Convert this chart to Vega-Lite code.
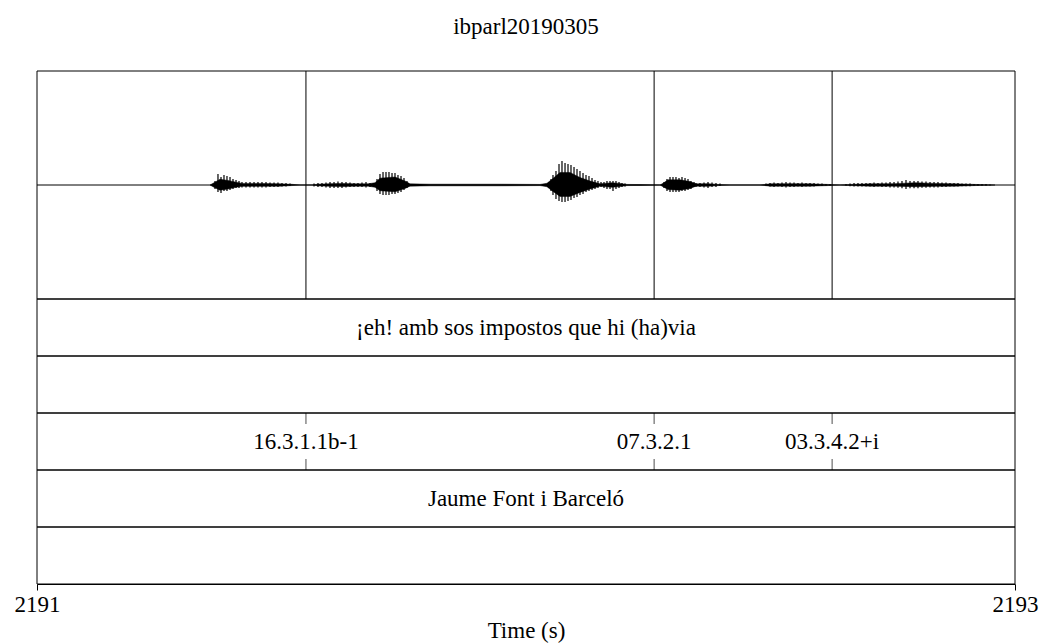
{
  "$schema": "https://vega.github.io/schema/vega-lite/v6.json",
  "width": 978,
  "height": 513,
  "autosize": {"type": "none"},
  "padding": {"left": 37, "top": 71, "right": 30, "bottom": 59},
  "background": "white",
  "title": {"text": "ibparl20190305", "font": "Liberation Serif", "fontSize": 23, "fontWeight": "normal", "color": "black", "anchor": "middle", "offset": 32},
  "config": {
    "view": {"stroke": null},
    "axisX": {"labelFont": "Liberation Serif", "labelFontSize": 23, "labelColor": "black", "titleFont": "Liberation Serif", "titleFontSize": 23, "titleFontWeight": "normal", "titleColor": "black", "tickColor": "black", "tickSize": 6, "domainColor": "black", "grid": false, "labelFlush": false, "labelOverlap": false, "labelPadding": 3, "titlePadding": 3}
  },
  "datasets": {
    "tiers": [
      {"tier": "1", "start": 2191, "end": 2193, "label": "¡eh! amb sos impostos que hi (ha)via"},
      {"tier": "2", "start": 2191, "end": 2193, "label": ""},
      {"tier": "3", "start": 2191, "end": 2193, "label": ""},
      {"tier": "4", "start": 2191, "end": 2193, "label": "Jaume Font i Barceló"},
      {"tier": "5", "start": 2191, "end": 2193, "label": ""}
    ],
    "points": [
      {"tier": "3", "time": 2191.550, "label": "16.3.1.1b-1"},
      {"tier": "3", "time": 2192.262, "label": "07.3.2.1"},
      {"tier": "3", "time": 2192.626, "label": "03.3.4.2+i"}
    ],
    "env": [
      {"t": 2191.3538, "lo": 0, "hi": 0},
      {"t": 2191.3620, "lo": -0.02, "hi": 0.02},
      {"t": 2191.3742, "lo": -0.045, "hi": 0.05},
      {"t": 2191.3906, "lo": -0.035, "hi": 0.04},
      {"t": 2191.4070, "lo": -0.02, "hi": 0.025},
      {"t": 2191.4192, "lo": -0.012, "hi": 0.014},
      {"t": 2191.4560, "lo": -0.012, "hi": 0.014},
      {"t": 2191.4969, "lo": -0.01, "hi": 0.01},
      {"t": 2191.5215, "lo": -0.005, "hi": 0.006},
      {"t": 2191.5378, "lo": 0, "hi": 0},
      {"t": 2191.5624, "lo": 0, "hi": 0},
      {"t": 2191.5746, "lo": -0.007, "hi": 0.007},
      {"t": 2191.5992, "lo": -0.012, "hi": 0.012},
      {"t": 2191.6237, "lo": -0.014, "hi": 0.014},
      {"t": 2191.6503, "lo": -0.01, "hi": 0.01},
      {"t": 2191.6769, "lo": -0.01, "hi": 0.01},
      {"t": 2191.6912, "lo": -0.02, "hi": 0.02},
      {"t": 2191.7014, "lo": -0.05, "hi": 0.06},
      {"t": 2191.7321, "lo": -0.06, "hi": 0.07},
      {"t": 2191.7526, "lo": -0.03, "hi": 0.035},
      {"t": 2191.7628, "lo": -0.01, "hi": 0.01},
      {"t": 2191.8037, "lo": -0.007, "hi": 0.007},
      {"t": 2191.8650, "lo": -0.007, "hi": 0.007},
      {"t": 2191.9468, "lo": -0.007, "hi": 0.007},
      {"t": 2192.0286, "lo": -0.005, "hi": 0.005},
      {"t": 2192.0429, "lo": -0.015, "hi": 0.015},
      {"t": 2192.0532, "lo": -0.05, "hi": 0.05},
      {"t": 2192.0695, "lo": -0.1, "hi": 0.11},
      {"t": 2192.0900, "lo": -0.1, "hi": 0.11},
      {"t": 2192.1104, "lo": -0.065, "hi": 0.065},
      {"t": 2192.1309, "lo": -0.035, "hi": 0.035},
      {"t": 2192.1513, "lo": -0.01, "hi": 0.01},
      {"t": 2192.1595, "lo": -0.014, "hi": 0.014},
      {"t": 2192.1759, "lo": -0.02, "hi": 0.02},
      {"t": 2192.1922, "lo": -0.014, "hi": 0.014},
      {"t": 2192.2065, "lo": -0.005, "hi": 0.005},
      {"t": 2192.2331, "lo": -0.004, "hi": 0.004},
      {"t": 2192.2740, "lo": 0, "hi": 0},
      {"t": 2192.2802, "lo": -0.015, "hi": 0.015},
      {"t": 2192.2904, "lo": -0.04, "hi": 0.045},
      {"t": 2192.3149, "lo": -0.045, "hi": 0.045},
      {"t": 2192.3354, "lo": -0.03, "hi": 0.03},
      {"t": 2192.3476, "lo": -0.01, "hi": 0.01},
      {"t": 2192.3722, "lo": -0.012, "hi": 0.012},
      {"t": 2192.3926, "lo": -0.005, "hi": 0.005},
      {"t": 2192.4172, "lo": 0, "hi": 0},
      {"t": 2192.4785, "lo": 0, "hi": 0},
      {"t": 2192.4990, "lo": -0.01, "hi": 0.01},
      {"t": 2192.5399, "lo": -0.01, "hi": 0.012},
      {"t": 2192.5808, "lo": -0.01, "hi": 0.01},
      {"t": 2192.6176, "lo": -0.005, "hi": 0.005},
      {"t": 2192.6421, "lo": 0, "hi": 0},
      {"t": 2192.6626, "lo": -0.005, "hi": 0.005},
      {"t": 2192.7035, "lo": -0.01, "hi": 0.01},
      {"t": 2192.7546, "lo": -0.01, "hi": 0.012},
      {"t": 2192.7955, "lo": -0.015, "hi": 0.02},
      {"t": 2192.8364, "lo": -0.012, "hi": 0.014},
      {"t": 2192.8773, "lo": -0.01, "hi": 0.01},
      {"t": 2192.9182, "lo": -0.005, "hi": 0.005},
      {"t": 2192.9591, "lo": 0, "hi": 0}
    ],
    "spikes": [
      {"t": 2191.3640, "lo": -0.035, "hi": 0.035},
      {"t": 2191.3701, "lo": -0.061, "hi": 0.096},
      {"t": 2191.3763, "lo": -0.07, "hi": 0.07},
      {"t": 2191.3824, "lo": -0.053, "hi": 0.088},
      {"t": 2191.3885, "lo": -0.053, "hi": 0.079},
      {"t": 2191.3947, "lo": -0.044, "hi": 0.07},
      {"t": 2191.4008, "lo": -0.035, "hi": 0.053},
      {"t": 2191.4070, "lo": -0.026, "hi": 0.044},
      {"t": 2191.4131, "lo": -0.026, "hi": 0.035},
      {"t": 2191.4192, "lo": -0.022, "hi": 0.026},
      {"t": 2191.4274, "lo": -0.022, "hi": 0.026},
      {"t": 2191.4356, "lo": -0.022, "hi": 0.026},
      {"t": 2191.4438, "lo": -0.022, "hi": 0.026},
      {"t": 2191.4519, "lo": -0.022, "hi": 0.026},
      {"t": 2191.4601, "lo": -0.022, "hi": 0.026},
      {"t": 2191.4683, "lo": -0.022, "hi": 0.026},
      {"t": 2191.4765, "lo": -0.018, "hi": 0.022},
      {"t": 2191.4847, "lo": -0.018, "hi": 0.022},
      {"t": 2191.4928, "lo": -0.018, "hi": 0.022},
      {"t": 2191.5010, "lo": -0.013, "hi": 0.018},
      {"t": 2191.5092, "lo": -0.013, "hi": 0.018},
      {"t": 2191.5174, "lo": -0.009, "hi": 0.013},
      {"t": 2191.5665, "lo": -0.013, "hi": 0.013},
      {"t": 2191.5746, "lo": -0.018, "hi": 0.018},
      {"t": 2191.5828, "lo": -0.018, "hi": 0.018},
      {"t": 2191.5910, "lo": -0.022, "hi": 0.022},
      {"t": 2191.5992, "lo": -0.026, "hi": 0.026},
      {"t": 2191.6074, "lo": -0.026, "hi": 0.026},
      {"t": 2191.6155, "lo": -0.026, "hi": 0.031},
      {"t": 2191.6237, "lo": -0.026, "hi": 0.026},
      {"t": 2191.6319, "lo": -0.022, "hi": 0.026},
      {"t": 2191.6401, "lo": -0.018, "hi": 0.022},
      {"t": 2191.6483, "lo": -0.018, "hi": 0.018},
      {"t": 2191.6564, "lo": -0.018, "hi": 0.018},
      {"t": 2191.6646, "lo": -0.018, "hi": 0.022},
      {"t": 2191.6728, "lo": -0.022, "hi": 0.026},
      {"t": 2191.6810, "lo": -0.018, "hi": 0.018},
      {"t": 2191.6953, "lo": -0.053, "hi": 0.053},
      {"t": 2191.7014, "lo": -0.079, "hi": 0.096},
      {"t": 2191.7076, "lo": -0.088, "hi": 0.114},
      {"t": 2191.7137, "lo": -0.088, "hi": 0.114},
      {"t": 2191.7198, "lo": -0.088, "hi": 0.114},
      {"t": 2191.7260, "lo": -0.079, "hi": 0.105},
      {"t": 2191.7321, "lo": -0.079, "hi": 0.105},
      {"t": 2191.7382, "lo": -0.07, "hi": 0.088},
      {"t": 2191.7444, "lo": -0.061, "hi": 0.079},
      {"t": 2191.7505, "lo": -0.044, "hi": 0.061},
      {"t": 2191.7566, "lo": -0.026, "hi": 0.035},
      {"t": 2192.0470, "lo": -0.026, "hi": 0.026},
      {"t": 2192.0511, "lo": -0.053, "hi": 0.053},
      {"t": 2192.0552, "lo": -0.088, "hi": 0.088},
      {"t": 2192.0613, "lo": -0.123, "hi": 0.123},
      {"t": 2192.0675, "lo": -0.14, "hi": 0.184},
      {"t": 2192.0736, "lo": -0.149, "hi": 0.211},
      {"t": 2192.0798, "lo": -0.149, "hi": 0.193},
      {"t": 2192.0859, "lo": -0.14, "hi": 0.184},
      {"t": 2192.0920, "lo": -0.132, "hi": 0.175},
      {"t": 2192.0982, "lo": -0.114, "hi": 0.158},
      {"t": 2192.1043, "lo": -0.105, "hi": 0.14},
      {"t": 2192.1104, "lo": -0.088, "hi": 0.123},
      {"t": 2192.1166, "lo": -0.079, "hi": 0.105},
      {"t": 2192.1227, "lo": -0.061, "hi": 0.088},
      {"t": 2192.1288, "lo": -0.053, "hi": 0.079},
      {"t": 2192.1350, "lo": -0.044, "hi": 0.061},
      {"t": 2192.1411, "lo": -0.035, "hi": 0.044},
      {"t": 2192.1472, "lo": -0.026, "hi": 0.035},
      {"t": 2192.1534, "lo": -0.018, "hi": 0.026},
      {"t": 2192.1595, "lo": -0.026, "hi": 0.026},
      {"t": 2192.1656, "lo": -0.035, "hi": 0.035},
      {"t": 2192.1718, "lo": -0.035, "hi": 0.035},
      {"t": 2192.1779, "lo": -0.053, "hi": 0.035},
      {"t": 2192.1840, "lo": -0.035, "hi": 0.035},
      {"t": 2192.1902, "lo": -0.026, "hi": 0.026},
      {"t": 2192.1963, "lo": -0.018, "hi": 0.018},
      {"t": 2192.2025, "lo": -0.013, "hi": 0.013},
      {"t": 2192.2822, "lo": -0.026, "hi": 0.026},
      {"t": 2192.2883, "lo": -0.053, "hi": 0.053},
      {"t": 2192.2945, "lo": -0.061, "hi": 0.07},
      {"t": 2192.3006, "lo": -0.061, "hi": 0.07},
      {"t": 2192.3067, "lo": -0.061, "hi": 0.07},
      {"t": 2192.3129, "lo": -0.061, "hi": 0.061},
      {"t": 2192.3190, "lo": -0.053, "hi": 0.07},
      {"t": 2192.3252, "lo": -0.053, "hi": 0.061},
      {"t": 2192.3313, "lo": -0.044, "hi": 0.053},
      {"t": 2192.3374, "lo": -0.035, "hi": 0.035},
      {"t": 2192.3436, "lo": -0.018, "hi": 0.026},
      {"t": 2192.3476, "lo": -0.018, "hi": 0.018},
      {"t": 2192.3558, "lo": -0.018, "hi": 0.018},
      {"t": 2192.3640, "lo": -0.022, "hi": 0.022},
      {"t": 2192.3722, "lo": -0.026, "hi": 0.026},
      {"t": 2192.3804, "lo": -0.018, "hi": 0.022},
      {"t": 2192.3885, "lo": -0.018, "hi": 0.018},
      {"t": 2192.3967, "lo": -0.009, "hi": 0.013},
      {"t": 2192.4908, "lo": -0.009, "hi": 0.013},
      {"t": 2192.4990, "lo": -0.013, "hi": 0.018},
      {"t": 2192.5072, "lo": -0.018, "hi": 0.022},
      {"t": 2192.5153, "lo": -0.013, "hi": 0.018},
      {"t": 2192.5235, "lo": -0.018, "hi": 0.022},
      {"t": 2192.5317, "lo": -0.022, "hi": 0.026},
      {"t": 2192.5399, "lo": -0.018, "hi": 0.022},
      {"t": 2192.5481, "lo": -0.018, "hi": 0.022},
      {"t": 2192.5562, "lo": -0.013, "hi": 0.018},
      {"t": 2192.5644, "lo": -0.018, "hi": 0.022},
      {"t": 2192.5726, "lo": -0.013, "hi": 0.018},
      {"t": 2192.5808, "lo": -0.013, "hi": 0.018},
      {"t": 2192.5890, "lo": -0.013, "hi": 0.018},
      {"t": 2192.5971, "lo": -0.009, "hi": 0.013},
      {"t": 2192.6053, "lo": -0.009, "hi": 0.013},
      {"t": 2192.6135, "lo": -0.007, "hi": 0.009},
      {"t": 2192.6217, "lo": -0.007, "hi": 0.009},
      {"t": 2192.6544, "lo": -0.007, "hi": 0.009},
      {"t": 2192.6626, "lo": -0.011, "hi": 0.013},
      {"t": 2192.6708, "lo": -0.014, "hi": 0.018},
      {"t": 2192.6789, "lo": -0.014, "hi": 0.018},
      {"t": 2192.6871, "lo": -0.014, "hi": 0.018},
      {"t": 2192.6953, "lo": -0.014, "hi": 0.018},
      {"t": 2192.7035, "lo": -0.014, "hi": 0.018},
      {"t": 2192.7117, "lo": -0.018, "hi": 0.022},
      {"t": 2192.7198, "lo": -0.014, "hi": 0.018},
      {"t": 2192.7280, "lo": -0.018, "hi": 0.022},
      {"t": 2192.7362, "lo": -0.018, "hi": 0.022},
      {"t": 2192.7444, "lo": -0.021, "hi": 0.026},
      {"t": 2192.7526, "lo": -0.021, "hi": 0.026},
      {"t": 2192.7607, "lo": -0.025, "hi": 0.031},
      {"t": 2192.7689, "lo": -0.028, "hi": 0.035},
      {"t": 2192.7771, "lo": -0.035, "hi": 0.044},
      {"t": 2192.7853, "lo": -0.028, "hi": 0.035},
      {"t": 2192.7935, "lo": -0.028, "hi": 0.035},
      {"t": 2192.8016, "lo": -0.028, "hi": 0.035},
      {"t": 2192.8098, "lo": -0.025, "hi": 0.031},
      {"t": 2192.8180, "lo": -0.025, "hi": 0.031},
      {"t": 2192.8262, "lo": -0.021, "hi": 0.026},
      {"t": 2192.8344, "lo": -0.021, "hi": 0.026},
      {"t": 2192.8425, "lo": -0.021, "hi": 0.026},
      {"t": 2192.8507, "lo": -0.018, "hi": 0.022},
      {"t": 2192.8589, "lo": -0.018, "hi": 0.022},
      {"t": 2192.8671, "lo": -0.014, "hi": 0.018},
      {"t": 2192.8753, "lo": -0.014, "hi": 0.018},
      {"t": 2192.8834, "lo": -0.014, "hi": 0.018},
      {"t": 2192.8916, "lo": -0.011, "hi": 0.013},
      {"t": 2192.8998, "lo": -0.011, "hi": 0.013},
      {"t": 2192.9080, "lo": -0.011, "hi": 0.013},
      {"t": 2192.9162, "lo": -0.007, "hi": 0.009},
      {"t": 2192.9243, "lo": -0.007, "hi": 0.009},
      {"t": 2192.9325, "lo": -0.007, "hi": 0.009},
      {"t": 2192.9407, "lo": -0.007, "hi": 0.009},
      {"t": 2192.9489, "lo": -0.004, "hi": 0.004}
    ]
  },
  "layer": [
    {
      "layer": [
        {
          "data": {"values": [{}]},
          "mark": {"type": "rect", "fill": "transparent", "stroke": "black", "strokeWidth": 1},
          "encoding": {
            "x": {"datum": 2191, "type": "quantitative", "scale": {"domain": [2191, 2193], "nice": false, "zero": false}, "axis": {"values": [2191, 2193], "format": "d"}, "title": "Time (s)"},
            "x2": {"datum": 2193},
            "y": {"datum": -1, "type": "quantitative", "scale": {"domain": [-3.5, 1], "nice": false, "zero": false}, "axis": null},
            "y2": {"datum": 1}
          }
        },
        {
          "data": {"values": [{}]},
          "mark": {"type": "rule", "color": "black", "strokeWidth": 1},
          "encoding": {
            "x": {"datum": 2191, "type": "quantitative", "scale": {"domain": [2191, 2193], "nice": false, "zero": false}, "axis": {"values": [2191, 2193], "format": "d"}, "title": "Time (s)"},
            "x2": {"datum": 2193},
            "y": {"datum": 0, "type": "quantitative", "scale": {"domain": [-3.5, 1], "nice": false, "zero": false}, "axis": null}
          }
        },
        {
          "data": {"name": "points"},
          "mark": {"type": "rule", "color": "black", "strokeWidth": 1},
          "encoding": {
            "x": {"field": "time", "type": "quantitative", "scale": {"domain": [2191, 2193], "nice": false, "zero": false}, "axis": {"values": [2191, 2193], "format": "d"}, "title": "Time (s)"},
            "y": {"datum": -1, "type": "quantitative", "scale": {"domain": [-3.5, 1], "nice": false, "zero": false}, "axis": null},
            "y2": {"datum": 1}
          }
        },
        {
          "data": {"name": "env"},
          "mark": {"type": "area", "color": "black", "stroke": "black", "strokeWidth": 0.5, "interpolate": "linear"},
          "encoding": {
            "x": {"field": "t", "type": "quantitative", "scale": {"domain": [2191, 2193], "nice": false, "zero": false}, "axis": {"values": [2191, 2193], "format": "d"}, "title": "Time (s)"},
            "y": {"field": "lo", "type": "quantitative", "scale": {"domain": [-3.5, 1], "nice": false, "zero": false}, "axis": null},
            "y2": {"field": "hi"}
          }
        },
        {
          "data": {"name": "spikes"},
          "mark": {"type": "rule", "color": "black", "strokeWidth": 1.2},
          "encoding": {
            "x": {"field": "t", "type": "quantitative", "scale": {"domain": [2191, 2193], "nice": false, "zero": false}, "axis": {"values": [2191, 2193], "format": "d"}, "title": "Time (s)"},
            "y": {"field": "lo", "type": "quantitative", "scale": {"domain": [-3.5, 1], "nice": false, "zero": false}, "axis": null},
            "y2": {"field": "hi"}
          }
        }
      ]
    },
    {
      "layer": [
        {
          "data": {"name": "tiers"},
          "mark": {"type": "rect", "fill": "transparent", "stroke": "black", "strokeWidth": 1},
          "encoding": {
            "x": {"field": "start", "type": "quantitative", "scale": {"domain": [2191, 2193], "nice": false, "zero": false}, "axis": {"values": [2191, 2193], "format": "d"}, "title": "Time (s)"},
            "x2": {"field": "end"},
            "y": {"field": "tier", "type": "ordinal", "scale": {"domain": ["w1", "w2", "w3", "w4", "1", "2", "3", "4", "5"], "paddingInner": 0, "paddingOuter": 0}, "axis": null}
          }
        },
        {
          "data": {"name": "tiers"},
          "transform": [{"fold": ["start", "end"]}],
          "mark": {"type": "text", "font": "Liberation Serif", "fontSize": 23, "color": "black", "align": "center", "baseline": "middle"},
          "encoding": {
            "x": {"aggregate": "mean", "field": "value", "type": "quantitative", "scale": {"domain": [2191, 2193], "nice": false, "zero": false}, "axis": {"values": [2191, 2193], "format": "d"}, "title": "Time (s)"},
            "y": {"field": "tier", "type": "ordinal", "scale": {"domain": ["w1", "w2", "w3", "w4", "1", "2", "3", "4", "5"], "paddingInner": 0, "paddingOuter": 0}, "axis": null},
            "text": {"field": "label"}
          }
        },
        {
          "data": {"name": "points"},
          "mark": {"type": "tick", "orient": "vertical", "color": "black", "size": 11, "thickness": 1, "yOffset": -23},
          "encoding": {
            "x": {"field": "time", "type": "quantitative", "scale": {"domain": [2191, 2193], "nice": false, "zero": false}, "axis": {"values": [2191, 2193], "format": "d"}, "title": "Time (s)"},
            "y": {"field": "tier", "type": "ordinal", "scale": {"domain": ["w1", "w2", "w3", "w4", "1", "2", "3", "4", "5"], "paddingInner": 0, "paddingOuter": 0}, "axis": null}
          }
        },
        {
          "data": {"name": "points"},
          "mark": {"type": "tick", "orient": "vertical", "color": "black", "size": 11, "thickness": 1, "yOffset": 23},
          "encoding": {
            "x": {"field": "time", "type": "quantitative", "scale": {"domain": [2191, 2193], "nice": false, "zero": false}, "axis": {"values": [2191, 2193], "format": "d"}, "title": "Time (s)"},
            "y": {"field": "tier", "type": "ordinal", "scale": {"domain": ["w1", "w2", "w3", "w4", "1", "2", "3", "4", "5"], "paddingInner": 0, "paddingOuter": 0}, "axis": null}
          }
        },
        {
          "data": {"name": "points"},
          "mark": {"type": "text", "font": "Liberation Serif", "fontSize": 23, "color": "black", "align": "center", "baseline": "middle"},
          "encoding": {
            "x": {"field": "time", "type": "quantitative", "scale": {"domain": [2191, 2193], "nice": false, "zero": false}, "axis": {"values": [2191, 2193], "format": "d"}, "title": "Time (s)"},
            "y": {"field": "tier", "type": "ordinal", "scale": {"domain": ["w1", "w2", "w3", "w4", "1", "2", "3", "4", "5"], "paddingInner": 0, "paddingOuter": 0}, "axis": null},
            "text": {"field": "label"}
          }
        }
      ]
    }
  ],
  "resolve": {"scale": {"y": "independent"}}
}
